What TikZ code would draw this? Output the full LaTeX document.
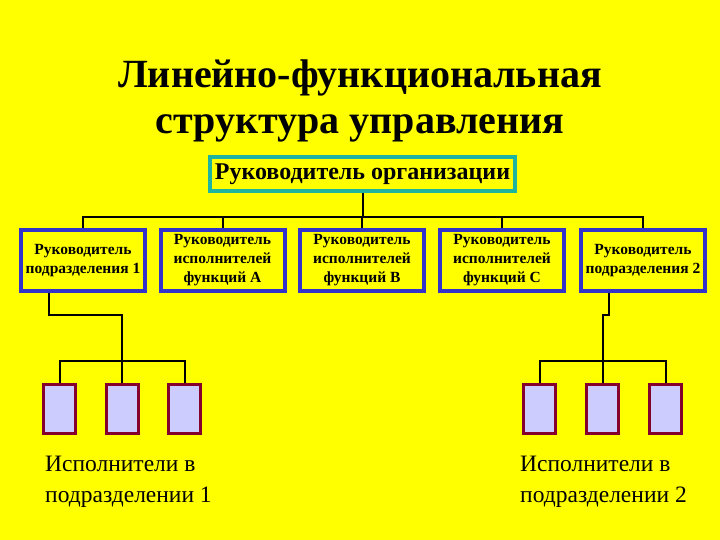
\documentclass[tikz,border=0pt]{standalone}
\usepackage{fontspec}
\setmainfont{Liberation Serif}
\definecolor{bg}{RGB}{255,255,0}
\begin{document}
\begin{tikzpicture}[x=1pt,y=-1pt,
  mgr/.style={draw={rgb,255:red,51;green,51;blue,204}, line width=4pt, fill=bg, minimum width=124pt, minimum height=61pt, align=center, font=\bfseries\fontsize{15.5}{19}\selectfont, inner sep=0pt},
  wrk/.style={draw=purple!70!black, line width=3pt, fill=blue!20, minimum width=32pt, minimum height=49pt},
  ln/.style={line width=2pt, black}]
\fill[bg] (0,0) rectangle (720,540);
\useasboundingbox (0,0) rectangle (720,540);
\node[font=\bfseries\fontsize{40}{46}\selectfont, align=center] (title) at (360,101) {Линейно-функциональная\\структура управления};
\node[draw={rgb,255:red,30;green,180;blue,160}, line width=4pt, fill=bg, minimum width=305pt, minimum height=34pt, font=\bfseries\fontsize{24}{28}\selectfont, inner sep=0pt] (top) at (362.5,174) {Руководитель организации};
\node[mgr] (b1) at (83,260.5) {Руководитель\\подразделения 1};
\node[mgr] (b2) at (222.5,260.5) {Руководитель\\исполнителей\\функций А};
\node[mgr] (b3) at (362,260.5) {Руководитель\\исполнителей\\функций В};
\node[mgr] (b4) at (502,260.5) {Руководитель\\исполнителей\\функций С};
\node[mgr] (b5) at (643,260.5) {Руководитель\\подразделения 2};
\coordinate (bus) at (0,217);
\draw[ln] (top.south) -- (top.south |- bus);
\draw[ln] (b1.north) -- (b1.north |- bus) -- (b5.north |- bus) -- (b5.north);
\foreach \b in {b2,b3,b4} \draw[ln] (\b.north) -- (\b.north |- bus);
% left group
\node[wrk] (w1) at (59.5,409) {};
\node[wrk] (w2) at (122,409) {};
\node[wrk] (w3) at (184.5,409) {};
\coordinate (l1) at (49,293);
\coordinate (l2) at (49,315);
\coordinate (l3) at (122,315);
\coordinate (lb) at (0,361);
\draw[ln] (l1) -- (l2) -- (l3) -- (w2.north);
\draw[ln] (w1.north) -- (w1.north |- lb) -- (w3.north |- lb) -- (w3.north);
% right group
\node[wrk] (w4) at (539.5,409) {};
\node[wrk] (w5) at (602.5,409) {};
\node[wrk] (w6) at (665.5,409) {};
\coordinate (r1) at (609,293);
\coordinate (r2) at (609,315);
\coordinate (r3) at (602.5,315);
\draw[ln] (r1) -- (r2) -- (r3) -- (w5.north);
\draw[ln] (w4.north) -- (w4.north |- lb) -- (w6.north |- lb) -- (w6.north);
\node[anchor=north west, align=left, font=\fontsize{23.5}{31}\selectfont, inner sep=0pt] (t1) at (45,456) {Исполнители в\\подразделении 1};
\node[anchor=north west, align=left, font=\fontsize{23.5}{31}\selectfont, inner sep=0pt] (t2) at (520,456) {Исполнители в\\подразделении 2};
\end{tikzpicture}
\end{document}
